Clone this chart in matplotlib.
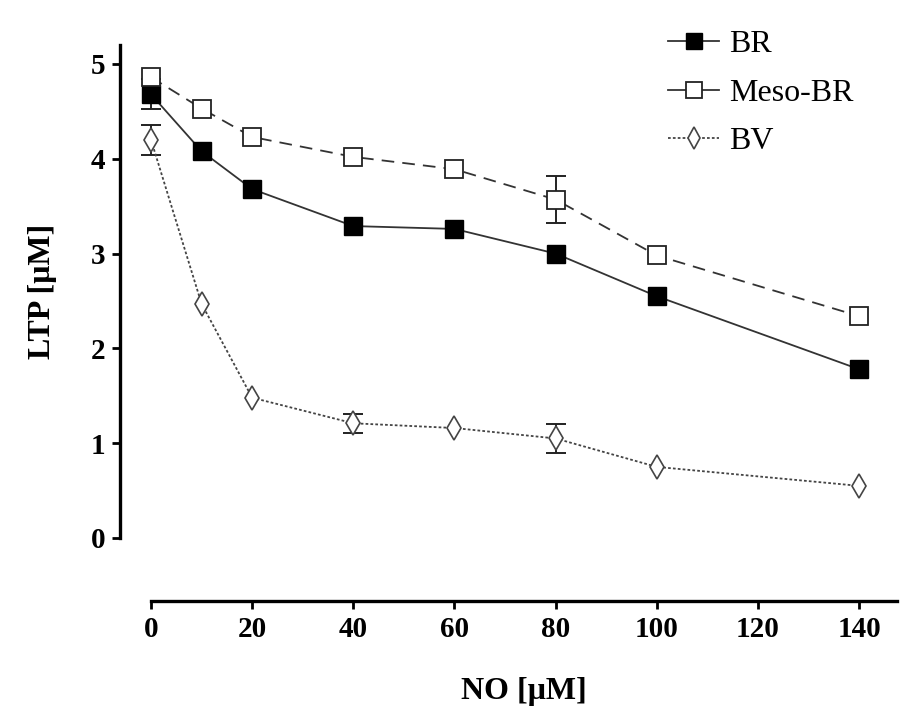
import matplotlib
matplotlib.use("Agg")
import matplotlib.pyplot as plt
from matplotlib.lines import Line2D

plt.rcParams["font.family"] = ["Liberation Serif", "DejaVu Serif"]

no_conc = [0, 10, 20, 40, 60, 80, 100, 140]

br = [4.68, 4.08, 3.68, 3.29, 3.26, 3.00, 2.55, 1.78]
br_err = [0.16, 0, 0, 0, 0, 0, 0, 0]

meso_br = [4.86, 4.53, 4.23, 4.02, 3.89, 3.57, 2.98, 2.34]
meso_err = [0, 0, 0, 0, 0, 0.25, 0, 0]

bv = [4.20, 2.47, 1.48, 1.21, 1.16, 1.05, 0.75, 0.55]
bv_err = [0.16, 0, 0, 0.10, 0, 0.15, 0, 0]

x_ticks = [0, 20, 40, 60, 80, 100, 120, 140]
y_ticks = [0, 1, 2, 3, 4, 5]

fig = plt.figure(figsize=(9, 7.07), dpi=100)
ax = fig.add_axes([151 / 900, 1 - 538 / 707, (897 - 151) / 900, (538 - 45) / 707])

line_col = "#333333"
err_col = "#222222"


def draw_errors(xs, ys, errs, z):
    pts = [(x, y, e) for x, y, e in zip(xs, ys, errs) if e > 0]
    if not pts:
        return
    ex, ey, ee = zip(*pts)
    ax.errorbar(ex, ey, yerr=ee, fmt="none", ecolor=err_col, elinewidth=1.4,
                capsize=7, capthick=1.4, zorder=z, clip_on=False)


styles = {
    "BR": dict(color=line_col, lw=1.3, ls="-", marker="s", ms=13,
               mfc="black", mec="black", mew=1),
    "Meso-BR": dict(color=line_col, lw=1.3, ls=(0, (7, 4.5)), marker="s",
                    ms=13, mfc="white", mec="#222222", mew=1.3),
    "BV": dict(color="#444444", lw=1.3, ls=(0, (1.5, 1.2)), marker="d",
               ms=12.5, mfc="white", mec="#444444", mew=1.2),
}

draw_errors(no_conc, br, br_err, 2)
ax.plot(no_conc, br, zorder=3, clip_on=False, **styles["BR"])
draw_errors(no_conc, meso_br, meso_err, 3)
ax.plot(no_conc, meso_br, zorder=4, clip_on=False, **styles["Meso-BR"])
draw_errors(no_conc, bv, bv_err, 4)
ax.plot(no_conc, bv, zorder=5, clip_on=False, **styles["BV"])

ax.set_xlim(0, 147.5)
ax.set_ylim(0, 5.2)
ax.set_xticks(x_ticks)
ax.set_yticks(y_ticks)

for side in ["top", "right"]:
    ax.spines[side].set_visible(False)
ax.spines["left"].set_position(("outward", 22))
ax.spines["bottom"].set_position(("outward", 45))
ax.spines["left"].set_linewidth(2.4)
ax.spines["bottom"].set_linewidth(2.4)

ax.tick_params(axis="both", direction="out", width=2, length=6,
               labelsize=21, pad=5)
for lab in ax.get_xticklabels() + ax.get_yticklabels():
    lab.set_fontweight("bold")

ax.set_xlabel("NO [\u03bcM]", fontsize=23, fontweight="bold", labelpad=25)
ax.set_ylabel("LTP [\u03bcM]", fontsize=23, fontweight="bold", labelpad=24)

handles = [
    Line2D([], [], color=line_col, lw=1.3, ls="-", marker="s", ms=11,
           mfc="black", mec="black"),
    Line2D([], [], color=line_col, lw=1.3, ls="-", marker="s", ms=11,
           mfc="white", mec="#222222", mew=1.3),
    Line2D([], [], color="#444444", lw=1.3, ls=(0, (1.5, 1.2)), marker="d",
           ms=11, mfc="white", mec="#444444", mew=1.2),
]
ax.legend(handles, ["BR", "Meso-BR", "BV"], loc="upper left",
          bbox_to_anchor=(668 / 900, 1 - 30 / 707), bbox_transform=fig.transFigure,
          frameon=False, fontsize=23, handlelength=1.6, handletextpad=0.3,
          labelspacing=0.6, borderaxespad=0.0, borderpad=0.0)

fig.savefig("out.png", dpi=100)
